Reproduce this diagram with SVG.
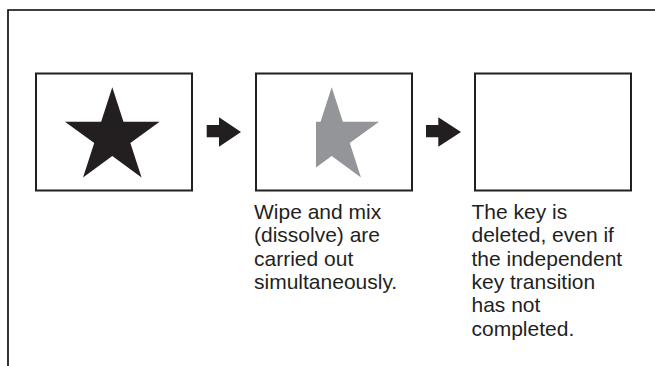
<svg xmlns="http://www.w3.org/2000/svg" width="655" height="366" viewBox="0 0 655 366">
<style>
.frame{fill:none;stroke:#000;stroke-width:1.6}
.box{fill:#fff;stroke:#231f20;stroke-width:2}
.arrow{fill:#231f20}
.lbl{font-family:"Liberation Sans",Arial,Helvetica,sans-serif;font-size:21px;fill:#231f20}
</style>
<defs>
<path id="star" d="M112.3,87.3 L123.47,121.73 L159.66,121.71 L130.37,142.97 L141.57,177.39 L112.3,156.1 L83.03,177.39 L94.23,142.97 L64.94,121.71 L101.13,121.73 Z"/>
<clipPath id="wipe"><rect x="316" y="70" width="100" height="125"/></clipPath>
</defs>
<path class="frame" d="M8,366 V10 H655"/>
<g id="frame1">
<rect class="box" x="36" y="73.5" width="156" height="117"/>
<use href="#star" fill="#231f20"/>
</g>
<g id="frame2">
<rect class="box" x="256" y="73.5" width="156" height="117"/>
<g clip-path="url(#wipe)"><use href="#star" fill="#939598" transform="translate(219.4,0)"/></g>
<text class="lbl" x="254" y="219">Wipe and mix</text>
<text class="lbl" x="254" y="242.3">(dissolve) are</text>
<text class="lbl" x="254" y="265.7">carried out</text>
<text class="lbl" x="254" y="289">simultaneously.</text>
</g>
<g id="frame3">
<rect class="box" x="475" y="73.5" width="156" height="117"/>
<text class="lbl" x="471.5" y="219">The key is</text>
<text class="lbl" x="471.5" y="242.3">deleted, even if</text>
<text class="lbl" x="471.5" y="265.7">the independent</text>
<text class="lbl" x="471.5" y="289">key transition</text>
<text class="lbl" x="471.5" y="312.3">has not</text>
<text class="lbl" x="471.5" y="335.7">completed.</text>
</g>
<g id="connectors">
<polygon class="arrow" points="206.7,125 219,125 219,117.3 241,132 219,146.7 219,137.3 206.7,137.3"/>
<polygon class="arrow" points="426,125 438.3,125 438.3,117.3 461,132 438.3,146.7 438.3,137.3 426,137.3"/>
</g>
</svg>
